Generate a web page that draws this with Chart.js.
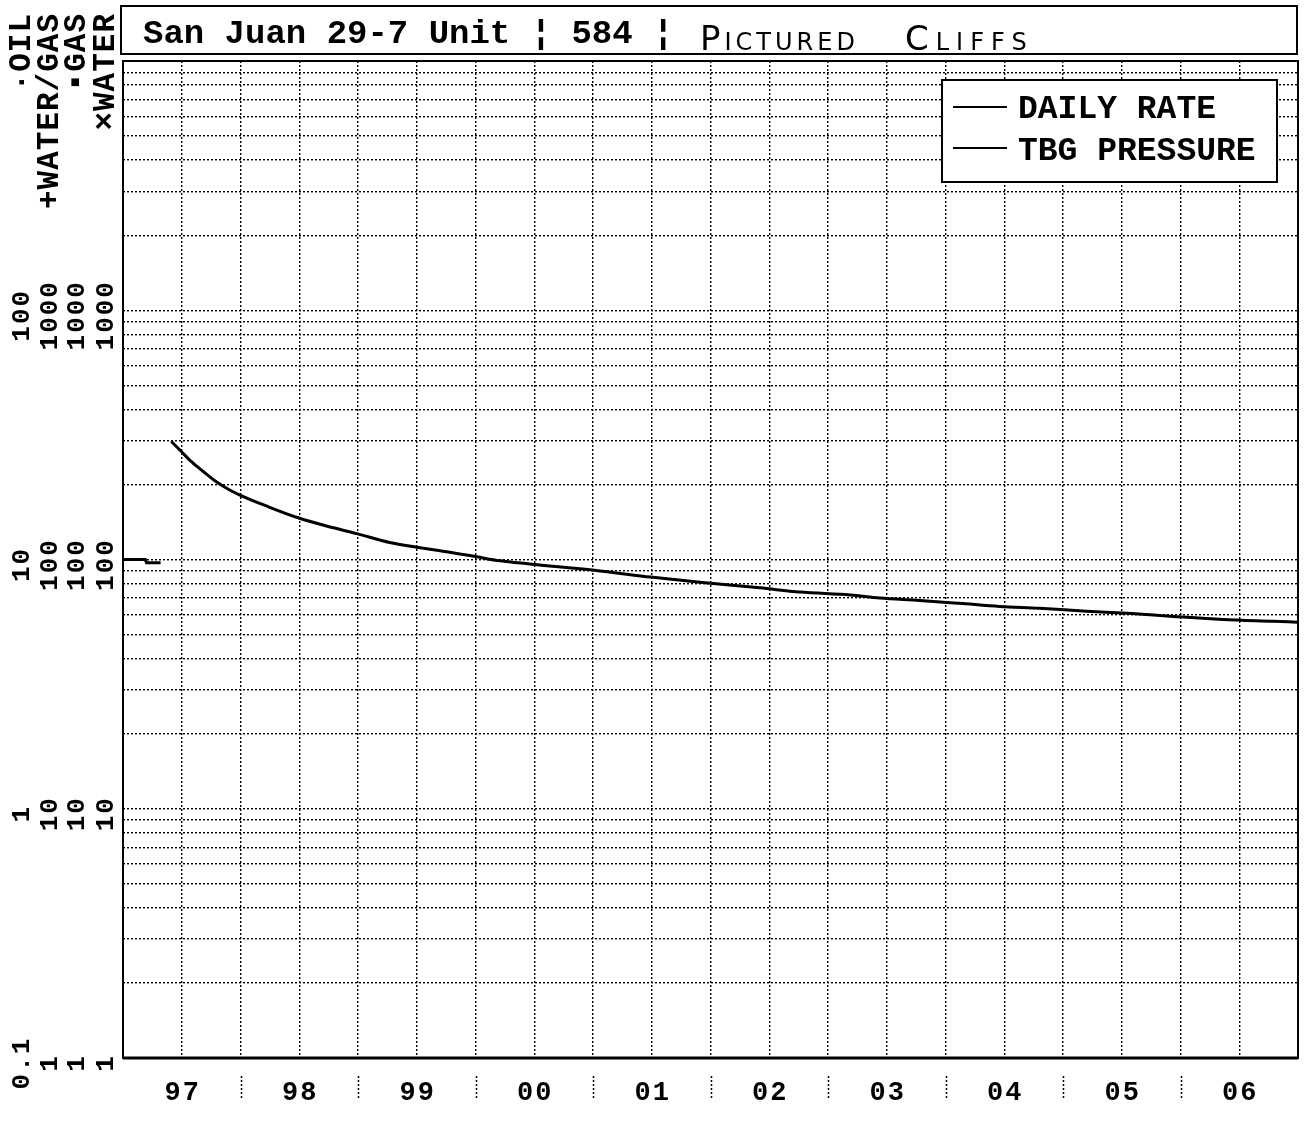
<!DOCTYPE html>
<html>
<head>
<meta charset="utf-8">
<script src="https://cdn.jsdelivr.net/npm/chart.js@4.4.1/dist/chart.umd.min.js"></script>
<style>
  html, body { margin: 0; padding: 0; background: #fff; }
  #wrap { position: relative; width: 1304px; height: 1121px; overflow: hidden; }
  #plot { position: absolute; left: 0; top: 0; }
  #title { position: absolute; left: 120px; top: 5px; width: 1178px; height: 50px; box-sizing: border-box;
           border: 2px solid #000; background: #fff; white-space: nowrap; }
  #title .typed { position: absolute; left: 21px; top: 8px; line-height: 34px;
                  font: bold 34px "Liberation Mono", "DejaVu Sans Mono", monospace; color: #000; }
  #title .hand { position: absolute; top: 11px; line-height: 34px;
                 font: 34px "DejaVu Sans", sans-serif; font-variant: small-caps; color: #000; }
  #title .h1 { left: 578px; letter-spacing: 4px; }
  #title .h2 { left: 783px; letter-spacing: 7px; }
</style>
</head>
<body>
<div id="wrap">
  <canvas id="plot" width="1304" height="1121"></canvas>
  <div id="title"><span class="typed">San Juan 29-7 Unit ¦ 584 ¦</span><span class="hand h1">Pictured</span><span class="hand h2">Cliffs</span></div>
</div>
<script>
document.addEventListener("DOMContentLoaded", () => {
    const $ = (id) => document.getElementById(id);
    const MONO = '"Liberation Mono", "DejaVu Sans Mono", monospace';

    // ---------- Data ----------
    const years = [1997, 1998, 1999, 2000, 2001, 2002, 2003, 2004, 2005, 2006];
    const yearLabels = ['97', '98', '99', '00', '01', '02', '03', '04', '05', '06'];

    const rateYears = [1997.41, 1997.49, 1997.57, 1997.66, 1997.80, 1997.90, 1998.00, 1998.22, 1998.49, 1998.79, 1998.99,
        1999.27, 1999.50, 1999.78, 2000.01, 2000.21, 2000.46, 2001.06, 2001.49, 2001.91, 2002.42,
        2002.76, 2003.19, 2003.44, 2003.78, 2004.12, 2004.46, 2004.80, 2005.20, 2005.55, 2005.94,
        2006.36, 2006.79, 2007.00];
    const rateValues = [298, 273, 250, 230, 204, 191, 181, 164, 147, 134, 127,
        117, 112, 107, 102.5, 98.8, 96, 90, 85, 81, 77,
        74, 72, 70, 68.5, 66.7, 64.8, 63.7, 62, 60.8, 59.1,
        57.5, 56.5, 56];

    const tbgYears = [1997.0, 1997.19, 1997.2, 1997.32];
    const tbgValues = [100, 100, 97, 97];

    const seriesNames = ['DAILY RATE', 'TBG PRESSURE'];

    // left axis: four label columns, one per product
    const axisNames = ['·OIL', '+WATER/GAS', '▪GAS', '×WATER'];
    const decadeValues = [1, 10, 100, 1000];
    const oilTicks = ['0.1', '1', '10', '100'];
    const waterGasTicks = ['1', '10', '100', '1000'];
    const gasTicks = ['1', '10', '100', '1000'];
    const waterTicks = ['1', '10', '100', '1000'];

    // ---------- Plugins ----------
    const framePlugin = {
        id: 'frame',
        beforeDatasetsDraw(chart) {
            const { ctx, chartArea: a } = chart;
            ctx.save();
            ctx.strokeStyle = '#000';
            ctx.lineWidth = 2;
            ctx.strokeRect(a.left, a.top, a.right - a.left, a.bottom - a.top);
            ctx.lineWidth = 3;
            ctx.beginPath();
            ctx.moveTo(a.left, a.bottom);
            ctx.lineTo(a.right, a.bottom);
            ctx.stroke();
            ctx.restore();
        }
    };

    const axisLabelsPlugin = {
        id: 'axisLabels',
        afterDraw(chart) {
            const { ctx } = chart;
            const y = chart.scales.y, x = chart.scales.x;
            const cols = [
                { cx: 22, ticks: oilTicks },
                { cx: 50, ticks: waterGasTicks },
                { cx: 77, ticks: gasTicks },
                { cx: 106, ticks: waterTicks }
            ];
            ctx.save();
            ctx.fillStyle = '#000';
            ctx.textBaseline = 'middle';
            cols.forEach((c, i) => {
                // column name, reads upward, ends near top
                ctx.save();
                ctx.translate(c.cx, 13);
                ctx.rotate(-Math.PI / 2);
                ctx.font = 'bold 31px ' + MONO;
                ctx.letterSpacing = '1px';
                ctx.textAlign = 'right';
                ctx.fillText(axisNames[i], 0, 0);
                ctx.restore();
                // decade numbers
                c.ticks.forEach((t, k) => {
                    const py = y.getPixelForValue(decadeValues[k]);
                    ctx.save();
                    ctx.translate(c.cx, py + 5);
                    ctx.rotate(-Math.PI / 2);
                    ctx.font = 'bold 26px ' + MONO;
                    ctx.letterSpacing = '2px';
                    ctx.textAlign = 'center';
                    ctx.fillText(t, 0, 0);
                    ctx.restore();
                });
            });

            // year labels centred in each year
            ctx.font = 'bold 27px ' + MONO;
            ctx.letterSpacing = '2px';
            ctx.textAlign = 'center';
            years.forEach((yr, i) => {
                ctx.fillText(yearLabels[i], x.getPixelForValue(yr + 0.5) + 1, 1093);
            });
            // dotted separators between years
            ctx.letterSpacing = '0px';
            ctx.strokeStyle = '#000';
            ctx.lineWidth = 1.5;
            ctx.setLineDash([2, 2]);
            years.slice(1).forEach(yr => {
                const px = Math.round(x.getPixelForValue(yr)) + 0.5;
                ctx.beginPath();
                ctx.moveTo(px, 1076);
                ctx.lineTo(px, 1100);
                ctx.stroke();
            });
            ctx.restore();
        }
    };

    const legendBoxPlugin = {
        id: 'legendBox',
        afterDraw(chart) {
            const { ctx } = chart;
            const bx = 942, by = 80, bw = 335, bh = 102;
            ctx.save();
            ctx.fillStyle = '#fff';
            ctx.fillRect(bx, by, bw, bh);
            ctx.strokeStyle = '#000';
            ctx.lineWidth = 2;
            ctx.strokeRect(bx, by, bw, bh);
            ctx.font = 'bold 33px ' + MONO;
            ctx.textAlign = 'left';
            ctx.textBaseline = 'alphabetic';
            ctx.fillStyle = '#000';
            chart.data.datasets.forEach((ds, i) => {
                const ly = 107 + i * 41;
                ctx.lineWidth = 2;
                ctx.beginPath();
                ctx.moveTo(953, ly);
                ctx.lineTo(1007, ly);
                ctx.stroke();
                ctx.fillText(ds.label, 1018, 118 + i * 42);
            });
            ctx.restore();
        }
    };

    // ---------- Chart ----------
    const gridOpts = { color: '#000', lineWidth: 1.4, drawTicks: false };
    const borderOpts = { display: false, dash: [2, 2] };

    new Chart($('plot'), {
        type: 'line',
        data: {
            datasets: [
                {
                    label: seriesNames[0],
                    data: rateYears.map((x, i) => ({ x, y: rateValues[i] })),
                    borderColor: '#000', borderWidth: 3, pointRadius: 0,
                    cubicInterpolationMode: 'monotone', fill: false
                },
                {
                    label: seriesNames[1],
                    data: tbgYears.map((x, i) => ({ x, y: tbgValues[i] })),
                    borderColor: '#000', borderWidth: 3, pointRadius: 0, fill: false
                }
            ]
        },
        options: {
            responsive: false,
            animation: false,
            devicePixelRatio: 1,
            layout: { padding: { top: 61, right: 6, left: 0, bottom: 0 } },
            plugins: { legend: { display: false }, tooltip: { enabled: false }, title: { display: false } },
            scales: {
                x: {
                    type: 'linear', min: 1997, max: 2007,
                    afterBuildTicks: (s) => {
                        const t = [];
                        for (let v = 1997; v <= 2007; v += 0.5) t.push({ value: v });
                        s.ticks = t;
                    },
                    afterFit: (s) => { s.height = 63; },
                    ticks: { display: false },
                    grid: gridOpts,
                    border: borderOpts
                },
                y: {
                    type: 'logarithmic', min: 1, max: 10000,
                    afterBuildTicks: (s) => {
                        const t = [];
                        for (let e = 1; e <= 1000; e *= 10)
                            for (let m = 1; m < 10; m++) t.push({ value: m * e });
                        t.push({ value: 10000 });
                        s.ticks = t;
                    },
                    afterFit: (s) => { s.width = 123; },
                    ticks: { display: false },
                    grid: gridOpts,
                    border: borderOpts
                }
            }
        },
        plugins: [framePlugin, axisLabelsPlugin, legendBoxPlugin]
    });
});
</script>
</body>
</html>
